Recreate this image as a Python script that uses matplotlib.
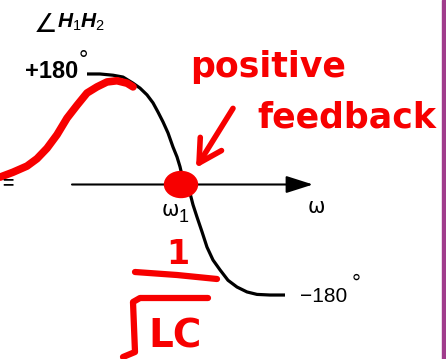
import matplotlib.pyplot as plt
from matplotlib.patches import Ellipse

plt.rcParams['font.family'] = ['Liberation Sans', 'DejaVu Sans']
plt.rcParams['mathtext.fontset'] = 'custom'
plt.rcParams['mathtext.rm'] = 'Liberation Sans'
plt.rcParams['mathtext.it'] = 'Liberation Sans:italic:bold'
plt.rcParams['mathtext.bf'] = 'Liberation Sans:bold'

W, H = 446, 359

# loop phase of H1*H2 (degrees) against frequency (px along the w axis)
w_loop = [87, 100, 113, 123, 133, 140, 147, 153, 158, 163, 168, 173, 177,
          180, 182, 185, 190, 193, 197, 202, 207, 213, 220, 228, 237, 247,
          257, 270, 285]
phase_loop = [180, 180, 178, 175, 165, 157, 146, 133, 118, 102, 84, 61, 45,
              29, 15, 0, -14, -33, -53, -77, -102, -123, -139, -156, -167,
              -175, -179, -180, -180]

# hand-drawn sketch of the rising part
w_sketch = [0, 13, 27, 37, 47, 57, 67, 77, 87, 97, 107, 117, 127, 133]
phase_sketch = [12, 20, 30, 42, 59, 81, 108, 129, 149, 159, 167, 169, 165, 159]

w1 = 183          # where the phase crosses zero
axis_start, axis_end = 72, 313

px_per_deg = 0.614
y_zero = 184.5
red = '#f70000'


def at(x, y):
    # pixel position (from top left) -> axes fraction
    return x / W, 1 - y / H


fig = plt.figure(figsize=(W / 100, H / 100), dpi=100)
ax = fig.add_axes([0, 0, 1, 1])
ax.set_xlim(0, W)
ax.set_ylim(-(H - y_zero) / px_per_deg, y_zero / px_per_deg)
ax.axis('off')
tr = ax.transAxes

# frequency axis
ax.annotate('', xy=(axis_end, 0), xytext=(axis_start, 0),
            arrowprops=dict(arrowstyle='-|>,head_length=1.1,head_width=0.35',
                            lw=1.5, color='black', mutation_scale=15,
                            shrinkA=0, shrinkB=0))

ax.plot(w_loop, phase_loop, color='black', lw=2.3, solid_capstyle='butt',
        solid_joinstyle='round')
ax.plot(w_sketch, phase_sketch, color=red, lw=5.5, solid_capstyle='round',
        solid_joinstyle='round')

# marker at the zero-phase crossing
ax.add_patch(Ellipse((w1 - 2, 0), 33, 26 / px_per_deg, color=red, zorder=5))
ax.annotate('', xy=(196, 27), xytext=(233, 124),
            arrowprops=dict(arrowstyle='->,head_length=0.9,head_width=0.5',
                            lw=4, color=red, mutation_scale=18,
                            shrinkA=0, shrinkB=0))

# black labels
ax.text(*at(34, 25), '\u2220', transform=tr, fontsize=19, ha='left', va='center',
        family='DejaVu Sans')
ax.text(*at(57, 22), r'$H_1H_2$', transform=tr, fontsize=15, ha='left', va='center')
ax.text(*at(78, 72), '+180', transform=tr, fontsize=17, fontweight='bold',
        ha='right', va='center')
ax.text(*at(83, 61), '°', transform=tr, fontsize=17, ha='center', va='center')
ax.text(*at(300, 296), '\u2212180', transform=tr, fontsize=15, ha='left', va='center')
ax.text(*at(356, 284), '°', transform=tr, fontsize=16, ha='center', va='center')
ax.text(*at(316, 207), '\u03c9', transform=tr, fontsize=15, ha='center', va='center',
        family='DejaVu Sans')
ax.text(*at(170, 210), '\u03c9', transform=tr, fontsize=15, ha='center', va='center',
        family='DejaVu Sans')
ax.text(*at(184, 217), '1', transform=tr, fontsize=13, ha='center', va='center')
ax.text(*at(8, 184), '=', transform=tr, fontsize=14, fontweight='bold',
        ha='center', va='center')

# red notes
ax.text(*at(268, 67), 'positive', transform=tr, fontsize=25, fontweight='bold',
        color=red, ha='center', va='center', family='DejaVu Sans')
ax.text(*at(347, 118), 'feedback', transform=tr, fontsize=25, fontweight='bold',
        color=red, ha='center', va='center', family='DejaVu Sans')

# 1 / sqrt(LC), written by hand
ax.text(*at(178, 254), '1', transform=tr, fontsize=24, fontweight='bold',
        color=red, ha='center', va='center', family='DejaVu Sans')
bar_x, bar_y = [135, 177, 217], [272, 275, 279]
ax.plot(*zip(*[at(x, y) for x, y in zip(bar_x, bar_y)]), transform=tr,
        color=red, lw=4.5, solid_capstyle='round')
root_x, root_y = [123, 135, 133, 140, 208], [357, 352, 302, 298, 298]
ax.plot(*zip(*[at(x, y) for x, y in zip(root_x, root_y)]), transform=tr,
        color=red, lw=4.5, solid_capstyle='round', solid_joinstyle='round')
ax.text(*at(175, 336), 'LC', transform=tr, fontsize=28, fontweight='bold',
        color=red, ha='center', va='center', family='DejaVu Sans')

# page edge
ax.axvspan(442, W, color='#a03c8c')

fig.savefig('out.png', dpi=100)
